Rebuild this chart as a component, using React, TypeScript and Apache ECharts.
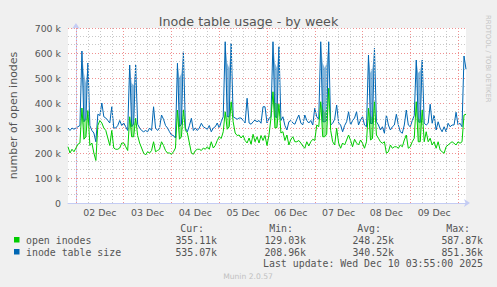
import React, { useEffect, useRef } from "react";
import * as echarts from "echarts";

// ---- data (values in thousands of inodes) ----
// hourly samples, hour 0 = 02 Dec 00:00, from -4 (01 Dec 20:00) to 196 (10 Dec 04:00)
const HOURS: number[] = Array.from({ length: 201 }, (_, i) => i - 4);

const INODE_TABLE_SIZE: number[] = [
  300, 290, 300, 295,
  300, 305, 310, 608, 325, 335, 560, 310, 290, 280, 245, 355, 350, 400, 345, 340, 330, 320, 385, 300, 300, 310, 330, 310,
  320, 305, 290, 552, 305, 315, 552, 315, 300, 290, 285, 290, 285, 300, 290, 385, 300, 290, 300, 352, 335, 310, 300, 285,
  272, 270, 260, 559, 305, 315, 605, 300, 285, 310, 339, 290, 300, 290, 300, 319, 305, 300, 295, 310, 285, 300, 305, 320,
  300, 325, 345, 645, 345, 345, 639, 345, 340, 335, 340, 340, 330, 320, 419, 320, 315, 325, 332, 325, 330, 319, 385, 385,
  320, 339, 345, 645, 345, 342, 625, 330, 345, 310, 292, 325, 330, 320, 315, 335, 352, 320, 312, 352, 330, 320, 330, 312,
  379, 345, 335, 645, 325, 325, 330, 645, 312, 319, 335, 392, 320, 312, 285, 310, 325, 365, 312, 330, 340, 365, 312, 332,
  345, 312, 305, 592, 318, 318, 619, 325, 312, 292, 305, 279, 352, 312, 292, 305, 312, 355, 312, 285, 279, 312, 372, 312,
  305, 330, 350, 572, 325, 322, 572, 319, 312, 319, 395, 319, 352, 292, 325, 299, 285, 305, 285, 319, 305, 312, 312, 363,
  312, 319, 305, 588, 535,
];

const OPEN_INODES: number[] = [
  225, 200, 215, 205,
  220, 235, 240, 380, 255, 265, 370, 230, 240, 200, 170, 310, 330, 320, 300, 290, 260, 230, 290, 220, 215, 215, 220, 240,
  240, 225, 210, 345, 265, 265, 339, 270, 240, 220, 200, 192, 205, 200, 210, 245, 205, 210, 215, 245, 230, 210, 200, 200,
  195, 205, 220, 372, 255, 265, 372, 290, 280, 240, 200, 195, 210, 215, 215, 210, 220, 215, 225, 215, 245, 220, 230, 250,
  265, 258, 285, 365, 295, 305, 405, 325, 280, 270, 272, 260, 270, 250, 240, 260, 235, 275, 245, 265, 240, 270, 250, 270,
  230, 272, 340, 445, 300, 302, 395, 280, 285, 250, 272, 232, 255, 265, 245, 245, 250, 240, 228, 219, 245, 228, 245, 255,
  250, 312, 305, 405, 265, 265, 275, 459, 290, 245, 232, 299, 240, 219, 240, 232, 252, 272, 250, 225, 255, 240, 232, 252,
  239, 219, 245, 379, 252, 258, 405, 272, 259, 245, 239, 245, 199, 205, 232, 219, 225, 225, 219, 232, 225, 252, 272, 219,
  225, 245, 259, 405, 245, 245, 372, 245, 285, 245, 259, 232, 245, 219, 245, 212, 205, 199, 225, 232, 239, 245, 239, 232,
  245, 239, 245, 352, 355,
];

// nightly bursts: between the two peaks the values swing rapidly up to these highs
const BURST_WINDOWS: number[][] = [[3, 6], [27, 30], [51, 54], [75, 78], [99, 102], [123, 127], [147, 150], [171, 174]];
const BURST_HOURS: number[] = [4, 5, 28, 29, 52, 53, 76, 77, 100, 101, 124, 125, 126, 148, 149, 172, 173];
const BURST_TABLE_HIGH: number[] = [520, 480, 480, 470, 500, 520, 560, 540, 560, 540, 560, 540, 560, 520, 540, 520, 530];
const BURST_OPEN_HIGH: number[] = [340, 330, 320, 310, 330, 300, 340, 350, 400, 399, 380, 360, 380, 350, 340, 340, 330];

const DAY_LABELS: string[] = ["02 Dec", "03 Dec", "04 Dec", "05 Dec", "06 Dec", "07 Dec", "08 Dec", "09 Dec"];
const DAY_LABEL_HOURS: number[] = [12, 36, 60, 84, 108, 132, 156, 180];
const DAY_BOUNDARY_HOURS: number[] = [0, 24, 48, 72, 96, 120, 144, 168, 192];
const SIX_HOUR_HOURS: number[] = [6, 12, 18, 30, 36, 42, 54, 60, 66, 78, 84, 90, 102, 108, 114, 126, 132, 138, 150, 156, 162, 174, 180, 186];

const Y_MAX = 700000;
const Y_STEP = 100000;

const TITLE = "Inode table usage - by week";
const Y_NAME = "number of open inodes";
const SERIES_NAMES: string[] = ["open inodes", "inode table size"];
const SERIES_COLORS: string[] = ["#00CC00", "#0066B3"];
const BURST_FILLS: string[] = ["rgba(0,204,0,0.42)", "rgba(0,102,179,0.48)"];
const STAT_HEADERS: string[] = ["Cur:", "Min:", "Avg:", "Max:"];
const STATS_OPEN: string[] = ["355.11k", "129.03k", "248.25k", "587.87k"];
const STATS_TABLE: string[] = ["535.07k", "208.96k", "340.52k", "851.36k"];
const LAST_UPDATE = "Last update: Wed Dec 10 03:55:00 2025";
const CREDIT = "RRDTOOL / TOBI OETIKER";
const VERSION = "Munin 2.0.57";

const FONT = "DejaVu Sans";
const MONO = "DejaVu Sans Mono";
const TEXT_COLOR = "#555555";
const AXIS_COLOR = "#C4CCF4";
const MAJOR_GRID = "#F09090";
const MINOR_GRID = "#C8C8C8";

function lineData(vals: number[]): number[][] {
  return HOURS.map((h, i) => [h, vals[i] * 1000]);
}

function valueAt(vals: number[], h: number): number {
  return vals[HOURS.indexOf(h)];
}

function burstSeries(vals: number[], highs: number[], fill: string, z: number): any {
  return {
    type: "custom",
    z,
    silent: true,
    clip: true,
    encode: { x: 0, y: 1 },
    data: BURST_WINDOWS.map((w, i) => [w[0], valueAt(vals, w[0]) * 1000, i]),
    renderItem: (params: any, api: any) => {
      const w = BURST_WINDOWS[api.value(2)];
      const upper: number[][] = [];
      const lower: number[][] = [];
      for (let h = w[0]; h <= w[1]; h++) {
        const k = BURST_HOURS.indexOf(h);
        if (k >= 0) {
          upper.push([h, highs[k]]);
          lower.unshift([h, valueAt(vals, h)]);
        } else {
          upper.push([h, valueAt(vals, h)]);
        }
      }
      const pts = upper.concat(lower).map((p) => api.coord([p[0], p[1] * 1000]));
      return { type: "polygon", shape: { points: pts }, style: { fill } };
    },
  };
}

export default function App() {
  const ref = useRef<HTMLDivElement>(null);
  useEffect(() => {
    document.body.style.margin = "0";
    const chart = echarts.init(ref.current!, null, { renderer: "svg" });
    const legendFont = `9.9px "${MONO}"`;
    const hdrRight = [204, 293, 381, 470];
    const valRight = [217, 306, 394, 483];
    const graphic: any[] = [];
    const txt = (x: number, y: number, text: string, font: string, fill: string, align: string, extra: any = {}) => ({
      type: "text",
      x,
      y,
      ...extra,
      style: { text, font, fill, textAlign: align, textVerticalAlign: "middle", align, verticalAlign: "middle" },
    });
    STAT_HEADERS.forEach((t, i) => graphic.push(txt(hdrRight[i], 228, t, legendFont, TEXT_COLOR, "right")));
    [STATS_OPEN, STATS_TABLE].forEach((row, r) => {
      const y = 240 + r * 12;
      graphic.push({ type: "rect", shape: { x: 14, y: y - 3, width: 5.5, height: 5.5 }, style: { fill: SERIES_COLORS[r] } });
      graphic.push(txt(26, y, SERIES_NAMES[r], legendFont, TEXT_COLOR, "left"));
      row.forEach((t, i) => graphic.push(txt(valRight[i], y, t, legendFont, TEXT_COLOR, "right")));
    });
    graphic.push(txt(483, 263.5, LAST_UPDATE, legendFont, TEXT_COLOR, "right"));
    graphic.push(txt(248, 276, VERSION, `7.6px "${FONT}"`, "#C0C0C0", "center"));
    graphic.push(txt(487.5, 15, CREDIT, `6.8px "${FONT}"`, "#C4C4C4", "left", { rotation: -Math.PI / 2 }));

    const option: any = {
      animation: false,
      backgroundColor: "#F0F0F0",
      textStyle: { fontFamily: FONT },
      title: {
        text: TITLE,
        left: "center",
        top: 10,
        textStyle: { fontSize: 12.7, fontWeight: "normal", color: TEXT_COLOR, fontFamily: FONT },
      },
      grid: { left: 66, top: 28, width: 400, height: 175, show: true, backgroundColor: "#FFFFFF", borderWidth: 0 },
      xAxis: {
        type: "value",
        min: -4,
        max: 196,
        axisLine: { show: true, onZero: false, lineStyle: { color: AXIS_COLOR, width: 1 }, symbol: ["none", "arrow"], symbolSize: [6, 6], symbolOffset: [0, 4] },
        axisTick: { show: false },
        splitLine: { show: false },
        axisLabel: {
          customValues: DAY_LABEL_HOURS,
          formatter: (v: number) => DAY_LABELS[Math.round((v - 12) / 24)] ?? "",
          color: TEXT_COLOR,
          fontSize: 9.4,
          fontFamily: FONT,
          margin: 5,
        },
      },
      yAxis: {
        type: "value",
        min: 0,
        max: Y_MAX,
        interval: Y_STEP,
        name: Y_NAME,
        nameLocation: "middle",
        nameGap: 49,
        nameTextStyle: { fontSize: 11, color: TEXT_COLOR, fontFamily: FONT },
        axisLine: { show: true, lineStyle: { color: AXIS_COLOR, width: 1 }, symbol: ["none", "arrow"], symbolSize: [6, 6], symbolOffset: [0, 5] },
        axisTick: { show: false },
        axisLabel: {
          formatter: (v: number) => (v === 0 ? "0" : `${v / 1000} k`),
          color: TEXT_COLOR,
          fontSize: 9.4,
          fontFamily: FONT,
          margin: 7,
        },
        splitLine: { show: true, lineStyle: { color: MAJOR_GRID, type: [1, 2], width: 1 } },
        minorTick: { show: false, splitNumber: 3 },
        minorSplitLine: { show: true, lineStyle: { color: MINOR_GRID, type: [1, 2], width: 1 } },
      },
      graphic,
      series: [
        {
          type: "line",
          data: [],
          z: 1,
          silent: true,
          markLine: {
            silent: true,
            symbol: ["none", "none"],
            label: { show: false },
            lineStyle: { color: MINOR_GRID, type: [1, 2], width: 1 },
            emphasis: { disabled: true },
            data: SIX_HOUR_HOURS.map((h) => ({ xAxis: h })),
          },
        },
        {
          type: "line",
          data: [],
          z: 1,
          silent: true,
          markLine: {
            silent: true,
            symbol: ["none", "none"],
            label: { show: false },
            lineStyle: { color: MAJOR_GRID, type: [1, 2], width: 1 },
            emphasis: { disabled: true },
            data: DAY_BOUNDARY_HOURS.map((h) => ({ xAxis: h })),
          },
        },
        burstSeries(INODE_TABLE_SIZE, BURST_TABLE_HIGH, BURST_FILLS[1], 2),
        {
          name: SERIES_NAMES[1],
          type: "line",
          z: 3,
          data: lineData(INODE_TABLE_SIZE),
          showSymbol: false,
          lineStyle: { color: SERIES_COLORS[1], width: 1 },
          itemStyle: { color: SERIES_COLORS[1] },
        },
        burstSeries(OPEN_INODES, BURST_OPEN_HIGH, BURST_FILLS[0], 4),
        {
          name: SERIES_NAMES[0],
          type: "line",
          z: 5,
          data: lineData(OPEN_INODES),
          showSymbol: false,
          lineStyle: { color: SERIES_COLORS[0], width: 1 },
          itemStyle: { color: SERIES_COLORS[0] },
        },
      ],
    };
    chart.setOption(option);
    return () => chart.dispose();
  }, []);
  return <div ref={ref} style={{ width: 497, height: 287 }} />;
}
